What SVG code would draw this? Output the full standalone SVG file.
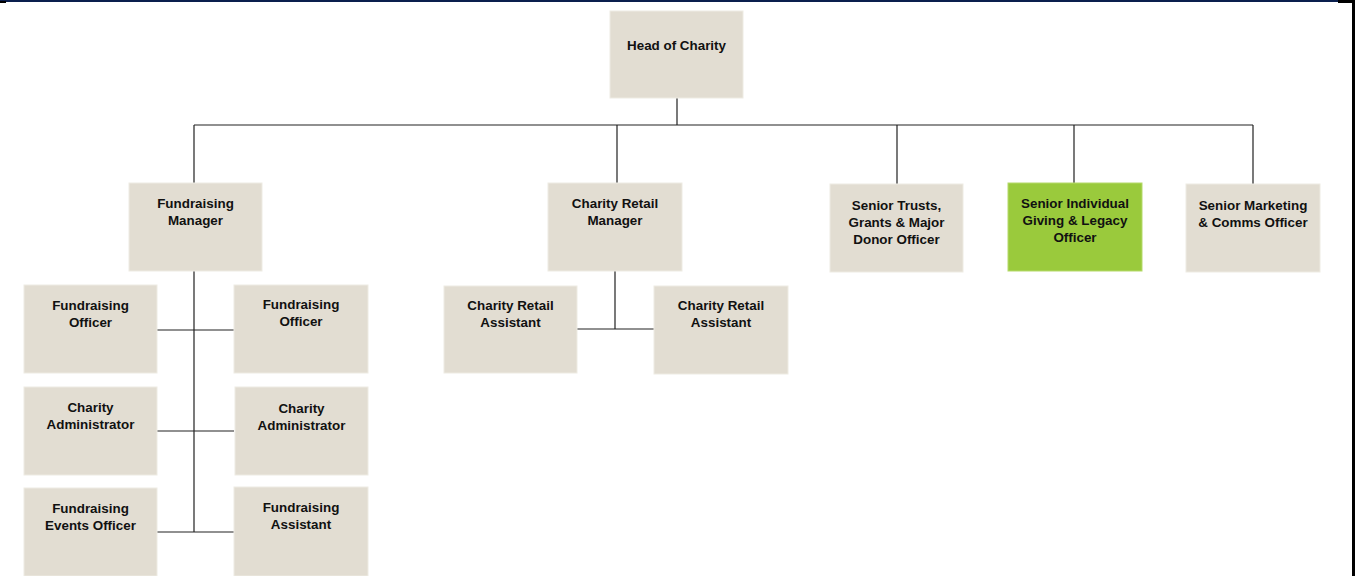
<svg xmlns="http://www.w3.org/2000/svg" width="1359" height="576" viewBox="0 0 1359 576">
<style>
.box{fill:#E2DDD2;stroke:#EEEBE3;stroke-width:1}
.green{fill:#9ACA3C;stroke:#B5DA6A;stroke-width:1}
.t{font-family:"Liberation Sans",Arial,sans-serif;font-weight:bold;font-size:13.4px;fill:#111;text-anchor:middle}
.c{stroke:#222;stroke-width:1.2;fill:none}
</style>
<rect x="0" y="0" width="1359" height="576" fill="#fff"/>
<rect x="0" y="0" width="1352" height="2" fill="#0A1F4E"/>
<rect x="0" y="1" width="6" height="2" fill="#000"/>
<rect x="1338" y="0" width="16" height="3" fill="#000"/>
<rect x="1352" y="0" width="3" height="576" fill="#000"/>
<g id="connectors">
<path class="c" d="M677 98V125M194 125H1253M194 125V183M617 125V183M897 125V184M1074 125V183M1253 125V184"/>
<path class="c" d="M194 271V532M157 330H234M157 431H234M157 532H234"/>
<path class="c" d="M615 271V329M577 329H654"/>
</g>
<g id="head"><rect class="box" x="610" y="11" width="133" height="87"/><text class="t" x="676.5" y="50">Head of Charity</text></g>
<g id="fundraising-manager"><rect class="box" x="129" y="183" width="133" height="88"/><text class="t" x="195.5" y="208">Fundraising</text><text class="t" x="195.5" y="225">Manager</text></g>
<g id="retail-manager"><rect class="box" x="548" y="183" width="134" height="88"/><text class="t" x="615" y="208">Charity Retail</text><text class="t" x="615" y="225">Manager</text></g>
<g id="senior-trusts"><rect class="box" x="830" y="184" width="133" height="88"/><text class="t" x="896.5" y="210">Senior Trusts,</text><text class="t" x="896.5" y="227">Grants &amp; Major</text><text class="t" x="896.5" y="244">Donor Officer</text></g>
<g id="senior-individual"><rect class="green" x="1008" y="183" width="134" height="88"/><text class="t" x="1075" y="208">Senior Individual</text><text class="t" x="1075" y="225">Giving &amp; Legacy</text><text class="t" x="1075" y="242">Officer</text></g>
<g id="senior-marketing"><rect class="box" x="1186" y="184" width="134" height="88"/><text class="t" x="1253" y="210">Senior Marketing</text><text class="t" x="1253" y="227">&amp; Comms Officer</text></g>
<g id="fundraising-officer-1"><rect class="box" x="24" y="285" width="133" height="88"/><text class="t" x="90.5" y="310">Fundraising</text><text class="t" x="90.5" y="327">Officer</text></g>
<g id="fundraising-officer-2"><rect class="box" x="234" y="285" width="134" height="88"/><text class="t" x="301" y="309">Fundraising</text><text class="t" x="301" y="326">Officer</text></g>
<g id="charity-admin-1"><rect class="box" x="24" y="387" width="133" height="88"/><text class="t" x="90.5" y="412">Charity</text><text class="t" x="90.5" y="429">Administrator</text></g>
<g id="charity-admin-2"><rect class="box" x="235" y="387" width="133" height="88"/><text class="t" x="301.5" y="413">Charity</text><text class="t" x="301.5" y="430">Administrator</text></g>
<g id="fundraising-events"><rect class="box" x="24" y="488" width="133" height="88"/><text class="t" x="90.5" y="513">Fundraising</text><text class="t" x="90.5" y="530">Events Officer</text></g>
<g id="fundraising-assistant"><rect class="box" x="234" y="487" width="134" height="89"/><text class="t" x="301" y="512">Fundraising</text><text class="t" x="301" y="529">Assistant</text></g>
<g id="retail-assistant-1"><rect class="box" x="444" y="286" width="133" height="87"/><text class="t" x="510.5" y="310">Charity Retail</text><text class="t" x="510.5" y="327">Assistant</text></g>
<g id="retail-assistant-2"><rect class="box" x="654" y="286" width="134" height="88"/><text class="t" x="721" y="310">Charity Retail</text><text class="t" x="721" y="327">Assistant</text></g>
</svg>
